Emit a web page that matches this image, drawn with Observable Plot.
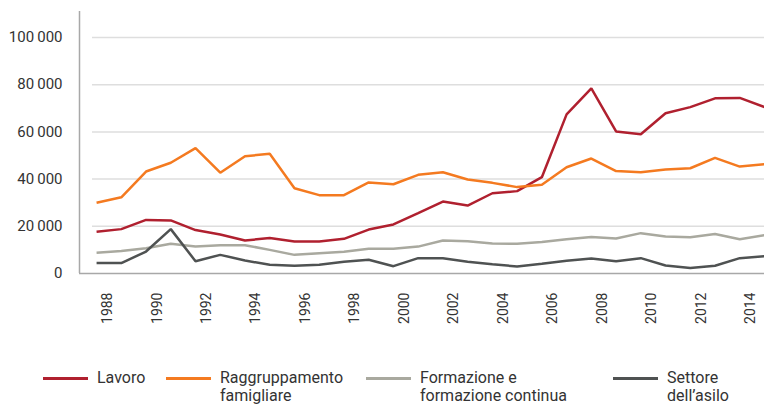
<!DOCTYPE html>
<html>
<head>
<meta charset="utf-8">
<script src="https://cdn.jsdelivr.net/npm/d3@7"></script>
<script src="https://cdn.jsdelivr.net/npm/@observablehq/plot@0.6"></script>
<style>
  html, body { margin: 0; padding: 0; background: #fff; }
  body { width: 764px; height: 405px; overflow: hidden; font-family: Roboto, "Noto Sans", sans-serif; }
  #chart { position: relative; width: 764px; }
  .legend { position: relative; height: 75px; width: 764px; }
  .item { position: absolute; top: 39px; display: flex; align-items: flex-start; }
  .sw { width: 45px; height: 3px; margin-top: 8px; margin-right: 9px; flex: none; }
  .lab { font-size: 16px; line-height: 18px; color: #333; }
</style>
</head>
<body>
<div id="chart"></div>
<script>
const years = d3.range(1988, 2016);
const seriesNames = ["Lavoro", "Raggruppamento famigliare", "Formazione e formazione continua", "Settore dell’asilo"];
const legendLabels = [["Lavoro"], ["Raggruppamento", "famigliare"], ["Formazione e", "formazione continua"], ["Settore", "dell’asilo"]];
const colors = ["#b0202f", "#f47a20", "#a9a99f", "#4f5252"];

const lavoro = [17700, 18800, 22700, 22500, 18400, 16500, 14000, 15000, 13600, 13600, 14700, 18600, 20800, 25600, 30500, 28800, 34000, 34900, 40800, 67400, 78400, 60200, 59000, 67900, 70500, 74200, 74400, 70500];
const raggruppamento = [30000, 32300, 43200, 46900, 53100, 42700, 49700, 50700, 36100, 33200, 33200, 38600, 37800, 41800, 42900, 39800, 38400, 36600, 37600, 45000, 48700, 43400, 42900, 44100, 44600, 49000, 45300, 46300];
const formazione = [8800, 9500, 10700, 12600, 11400, 12000, 12000, 10000, 7900, 8600, 9200, 10500, 10500, 11400, 14000, 13700, 12700, 12600, 13300, 14500, 15500, 14800, 17100, 15700, 15400, 16700, 14500, 16200];
const asilo = [4400, 4400, 9300, 18800, 5200, 7900, 5500, 3700, 3300, 3700, 5000, 5800, 3100, 6500, 6500, 5000, 3900, 3000, 4100, 5400, 6400, 5200, 6500, 3400, 2300, 3300, 6500, 7300];

const xTicks = [1988, 1990, 1992, 1994, 1996, 1998, 2000, 2002, 2004, 2006, 2008, 2010, 2012, 2014];
const yTicks = [0, 20000, 40000, 60000, 80000, 100000];
const xDomain = [1987.31, 2015];
const yDomain = [0, 111000];

const allValues = [lavoro, raggruppamento, formazione, asilo];
const data = [];
allValues.forEach((vals, i) => vals.forEach((v, j) => data.push({year: years[j], value: v, series: seriesNames[i]})));

const fmt = v => v === 0 ? "0" : d3.format(",")(v).replace(/,/g, "\u2009");

const chart = Plot.plot({
  width: 764,
  height: 330,
  marginLeft: 79,
  marginRight: 0,
  marginTop: 11,
  marginBottom: 57,
  style: {fontFamily: "Roboto, sans-serif", color: "#333", background: "#fff"},
  x: {domain: xDomain, axis: null, label: null},
  y: {domain: yDomain, axis: null, label: null},
  color: {domain: seriesNames, range: colors},
  marks: [
    Plot.gridY(yTicks.filter(d => d > 0), {stroke: "#dedede", strokeOpacity: 1, strokeWidth: 1.5, insetLeft: 13}),
    Plot.ruleY([0], {stroke: "#a8a8a8", strokeWidth: 1.5}),
    Plot.ruleX([xDomain[0]], {stroke: "#a8a8a8", strokeWidth: 1.5}),
    Plot.axisY(yTicks, {tickSize: 0, tickPadding: 17, tickFormat: fmt, fontSize: 15, fill: "#333", label: null}),
    Plot.axisX(xTicks, {tickSize: 0, tickPadding: 19, tickRotate: -90, tickFormat: d => String(d), fontSize: 14, fill: "#333", dx: 11, label: null}),
    Plot.line(data, {x: "year", y: "value", z: "series", stroke: "series", strokeWidth: 2.5, strokeLinejoin: "miter", strokeLinecap: "butt"})
  ]
});
document.getElementById("chart").appendChild(chart);

const legend = document.createElement("div");
legend.className = "legend";
const lefts = [43, 166, 366, 613];
legendLabels.forEach((lines, i) => {
  const it = document.createElement("div");
  it.className = "item";
  it.style.left = lefts[i] + "px";
  const sw = document.createElement("div");
  sw.className = "sw";
  sw.style.background = colors[i];
  const lab = document.createElement("div");
  lab.className = "lab";
  lab.innerHTML = lines.join("<br>");
  it.appendChild(sw);
  it.appendChild(lab);
  legend.appendChild(it);
});
document.getElementById("chart").appendChild(legend);
</script>
</body>
</html>
